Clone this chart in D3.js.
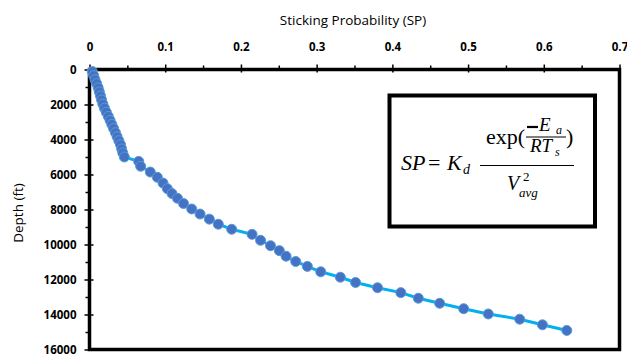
<!DOCTYPE html>
<html>
<head>
<meta charset="utf-8">
<script src="https://cdn.jsdelivr.net/npm/d3@7"></script>
<style>
body { margin: 0; background: #fff; }
svg { display: block; }
.ax text { font-family: "Open Sans", sans-serif; font-weight: bold; font-size: 11.5px; fill: #000; }
.eq text { font-family: "Liberation Serif", "Times New Roman", serif; fill: #000; }
</style>
</head>
<body>
<div id="chart"></div>
<script>
// sticking probability vs depth
var depth = [120, 350, 580, 810, 1050, 1280, 1510, 1740, 1980, 2210, 2440, 2680, 2910, 3140,
    3370, 3610, 3840, 4070, 4300, 4540, 4770, 5000,
    5250, 5530, 5860, 6160, 6490, 6810, 7090, 7360, 7660, 7970, 8260, 8550, 8840, 9130,
    9420, 9760, 10070, 10350, 10670, 10970, 11250, 11560, 11870, 12170, 12470, 12750,
    13070, 13360, 13670, 13970, 14270, 14590, 14910];
var sp = [0.0037, 0.0055, 0.0073, 0.0095, 0.0115, 0.0130, 0.0145, 0.0160, 0.0177, 0.0198, 0.0222,
    0.0248, 0.0272, 0.0295, 0.0318, 0.0343, 0.0365, 0.0388, 0.0410, 0.0425, 0.0440, 0.0460,
    0.0650, 0.0676, 0.0803, 0.0896, 0.0971, 0.1028, 0.1090, 0.1162, 0.1242, 0.1350, 0.1460,
    0.1583, 0.1701, 0.1878, 0.2147, 0.2259, 0.2391, 0.2507, 0.2596, 0.2724, 0.2877, 0.3054,
    0.3313, 0.3514, 0.3804, 0.4112, 0.4343, 0.4625, 0.4942, 0.5267, 0.5682, 0.5982, 0.6304];
var xTicks = [0, 0.1, 0.2, 0.3, 0.4, 0.5, 0.6, 0.7];
var xMinor = [0.05, 0.15, 0.25, 0.35, 0.45, 0.55, 0.65];
var yTicks = [0, 2000, 4000, 6000, 8000, 10000, 12000, 14000, 16000];
var yMinor = [1000, 3000, 5000, 7000, 9000, 11000, 13000, 15000];

var pts = depth.map((d, i) => ({ depth: d, sp: sp[i] }));

var x = d3.scaleLinear().domain([0, 0.7]).range([89.5, 619.5]);
var y = d3.scaleLinear().domain([0, 16000]).range([69.5, 349.5]);

var svg = d3.select("#chart").append("svg")
    .attr("width", 627)
    .attr("height", 354);

// minor ticks (outside only)
svg.append("g")
    .attr("class", "ax")
    .attr("transform", "translate(0," + 69.5 + ")")
    .call(d3.axisTop(x).tickValues(xMinor).tickSize(4).tickFormat(""))
    .call(g => g.select(".domain").remove())
    .selectAll("line").attr("stroke-width", 1.5);
svg.append("g")
    .attr("class", "ax")
    .attr("transform", "translate(" + 89.5 + ",0)")
    .call(d3.axisLeft(y).tickValues(yMinor).tickSize(4).tickFormat(""))
    .call(g => g.select(".domain").remove())
    .selectAll("line").attr("stroke-width", 1.5);

// major ticks crossing the frame, with labels
svg.append("g")
    .attr("class", "ax")
    .attr("transform", "translate(0," + 72.5 + ")")
    .call(d3.axisTop(x).tickValues(xTicks).tickSize(8).tickPadding(14).tickFormat(d3.format("")))
    .call(g => g.select(".domain").remove())
    .selectAll("line").attr("stroke-width", 1.5);
svg.append("g")
    .attr("class", "ax")
    .attr("transform", "translate(" + 93.5 + ",0)")
    .call(d3.axisLeft(y).tickValues(yTicks).tickSize(9).tickPadding(8).tickFormat(d3.format("")))
    .call(g => g.select(".domain").remove())
    .selectAll("line").attr("stroke-width", 1.5);

// frame
svg.append("rect")
    .attr("x", x(0)).attr("y", y(0))
    .attr("width", x(0.7) - x(0)).attr("height", y(16000) - y(0))
    .attr("fill", "none").attr("stroke", "#000").attr("stroke-width", 3.5);

// titles
svg.append("text")
    .attr("x", 353).attr("y", 25)
    .attr("text-anchor", "middle")
    .style("font-family", "Open Sans, sans-serif").style("font-size", "13.5px")
    .text("Sticking Probability (SP)");
svg.append("g")
    .attr("transform", "translate(" + 23 + ", " + 213 + ")")
    .append("text")
    .attr("transform", "rotate(-90)")
    .attr("text-anchor", "middle")
    .style("font-family", "Open Sans, sans-serif").style("font-size", "13.5px")
    .text("Depth (ft)");

// series
svg.append("path")
    .datum(pts)
    .attr("fill", "none")
    .attr("stroke", "#00B0F0")
    .attr("stroke-width", 3)
    .attr("d", d3.line().x(d => x(d.sp)).y(d => y(d.depth)));

svg.selectAll("circle")
    .data(pts).enter().append("circle")
    .attr("cx", d => x(d.sp))
    .attr("cy", d => y(d.depth))
    .attr("r", 5)
    .attr("fill", "#4472C4")
    .attr("stroke", "#5B9BD5")
    .attr("stroke-width", 1);

// equation box
var eq = svg.append("g").attr("class", "eq");
eq.append("rect")
    .attr("x", 389.5).attr("y", 95.5)
    .attr("width", 205.5).attr("height", 131)
    .attr("fill", "#fff").attr("stroke", "#000").attr("stroke-width", 4);

function t(str, px, py, size, italic) {
    eq.append("text")
        .attr("x", px).attr("y", py)
        .style("font-size", size + "px")
        .style("font-style", italic ? "italic" : "normal")
        .text(str);
}
t("SP", 401, 170, 22, true);
t("=", 428, 170, 22, false);
t("K", 447, 170, 22, true);
t("d", 463, 174, 14, true);
eq.append("line").attr("x1", 480).attr("x2", 574).attr("y1", 165.5).attr("y2", 165.5)
    .attr("stroke", "#000").attr("stroke-width", 1);
t("exp(", 486, 144, 22, false);
eq.append("line").attr("x1", 527).attr("x2", 538).attr("y1", 127).attr("y2", 127)
    .attr("stroke", "#000").attr("stroke-width", 2.2);
t("E", 539, 131, 19, true);
t("a", 556, 134, 12, true);
eq.append("line").attr("x1", 526).attr("x2", 566).attr("y1", 137).attr("y2", 137)
    .attr("stroke", "#000").attr("stroke-width", 1);
t("RT", 530, 152, 19, true);
t("s", 555, 156, 12, true);
t(")", 566, 144, 22, false);
t("V", 507, 190, 20, true);
t("2", 523, 181, 13, false);
t("avg", 519, 197, 13, true);
</script>
</body>
</html>
